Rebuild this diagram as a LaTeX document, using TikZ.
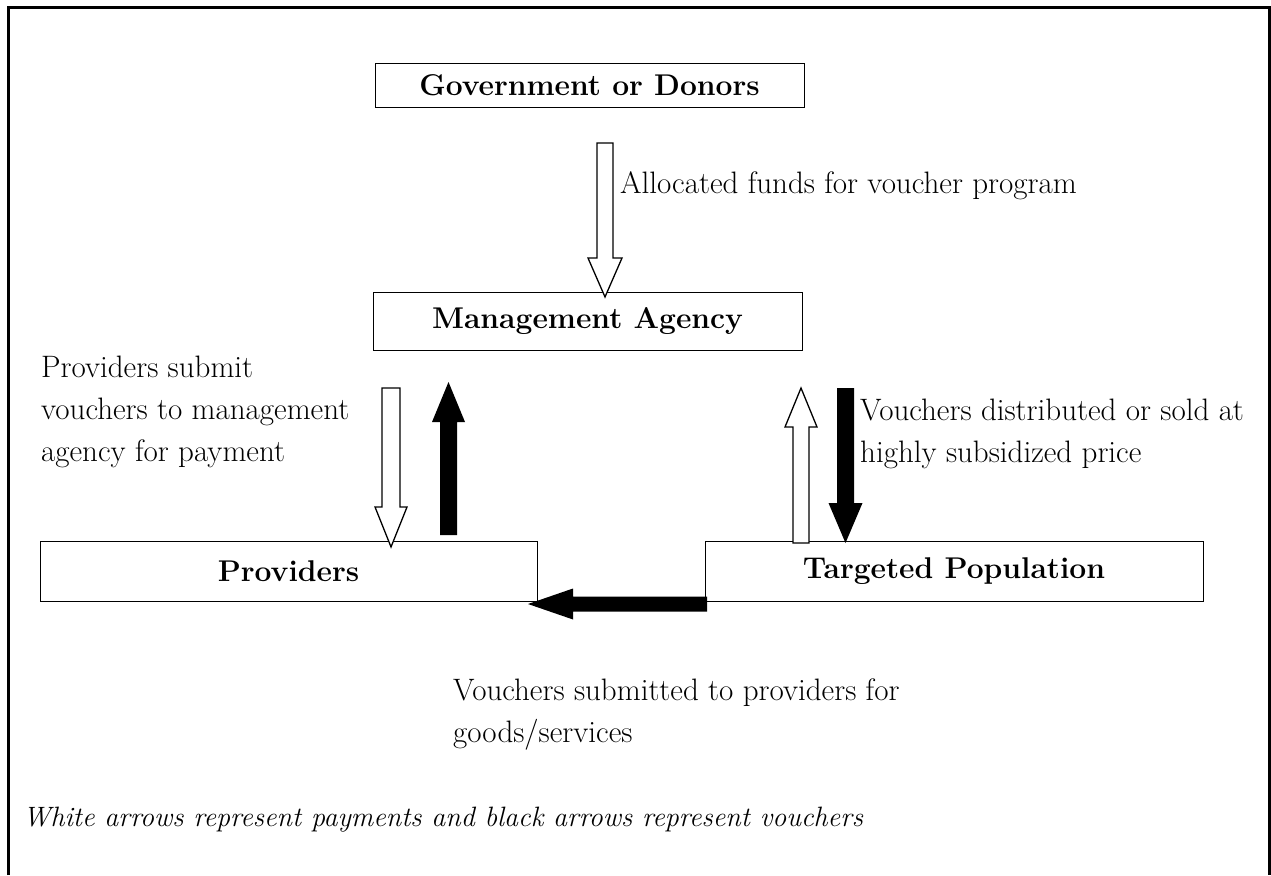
\documentclass[tikz,border=0pt]{standalone}
\usetikzlibrary{calc}
\tikzset{
  box/.style={draw, line width=1pt, inner sep=0pt, font=\fontsize{30}{36}\selectfont\bfseries},
  lbl/.style={inner sep=0pt, anchor=base west, align=left, font=\fontsize{31}{42}\selectfont},
  note/.style={inner sep=0pt, anchor=base west, font=\fontsize{28}{36}\selectfont\itshape},
  whitearr/.style={draw=black, fill=white, line width=1.3pt, line join=miter},
  blackarr/.style={fill=black},
  frame/.style={line width=3pt},
}
\newcommand\blockarrow[6]{%
  \coordinate (hb) at ($(#3)!#6!(#2)$);
  \path[#1] ($(#2)!#4!90:(#3)$) -- ($(hb)!#4!90:(#3)$) -- ($(hb)!#5!90:(#3)$) -- (#3)
    -- ($(hb)!#5!-90:(#3)$) -- ($(hb)!#4!-90:(#3)$) -- ($(#2)!#4!-90:(#3)$) -- cycle;
}
\begin{document}
\begin{tikzpicture}[x=1pt,y=-1pt]
\useasboundingbox (0,0) rectangle (1271,875);
\fill[white] (0,0) rectangle (1271,875);
\draw[frame] (8.7,875) -- (8.7,7.5) -- (1269.5,7.5) -- (1269.5,875);

\node[box, minimum width=429pt, minimum height=43pt] (gov) at (589.5,85.5) {Government or Donors};
\node[box, minimum width=429pt, minimum height=58pt] (mgmt) at (587.5,321) {Management Agency};
\node[box, minimum width=497pt, minimum height=60pt] (prov) at (288.5,571) {Providers};
\node[box, minimum width=498pt, minimum height=60pt] (targ) at (954,571) {Targeted Population};

\node[lbl] (t1) at (620,193) {Allocated funds for voucher program};
\node[lbl] (t2) at (41,461) {Providers submit\\vouchers to management\\agency for payment};
\node[lbl] (t3) at (860,462) {Vouchers distributed or sold at\\highly subsidized price};
\node[lbl] (t4) at (453,742) {Vouchers submitted to providers for\\goods/services};
\node[note] (t5) at (23,826) {White arrows represent payments and black arrows represent vouchers};

\coordinate (a1s) at (605,143);   \coordinate (a1e) at (605,297);
\coordinate (a2s) at (391,388);   \coordinate (a2e) at (391,547);
\coordinate (a3s) at (448.5,535); \coordinate (a3e) at (448.5,382);
\coordinate (a4s) at (801,543);   \coordinate (a4e) at (801,388);
\coordinate (a5s) at (845.5,388); \coordinate (a5e) at (845.5,543);
\coordinate (a6s) at (707,604);   \coordinate (a6e) at (528,604);

\blockarrow{whitearr}{a1s}{a1e}{8pt}{17pt}{39pt}
\blockarrow{whitearr}{a2s}{a2e}{9pt}{16pt}{40pt}
\blockarrow{blackarr}{a3s}{a3e}{8.5pt}{16.5pt}{40pt}
\blockarrow{whitearr}{a4s}{a4e}{8pt}{16pt}{39pt}
\blockarrow{blackarr}{a5s}{a5e}{8.5pt}{17pt}{40pt}
\blockarrow{blackarr}{a6s}{a6e}{7.5pt}{15.5pt}{45pt}
\end{tikzpicture}
\end{document}
